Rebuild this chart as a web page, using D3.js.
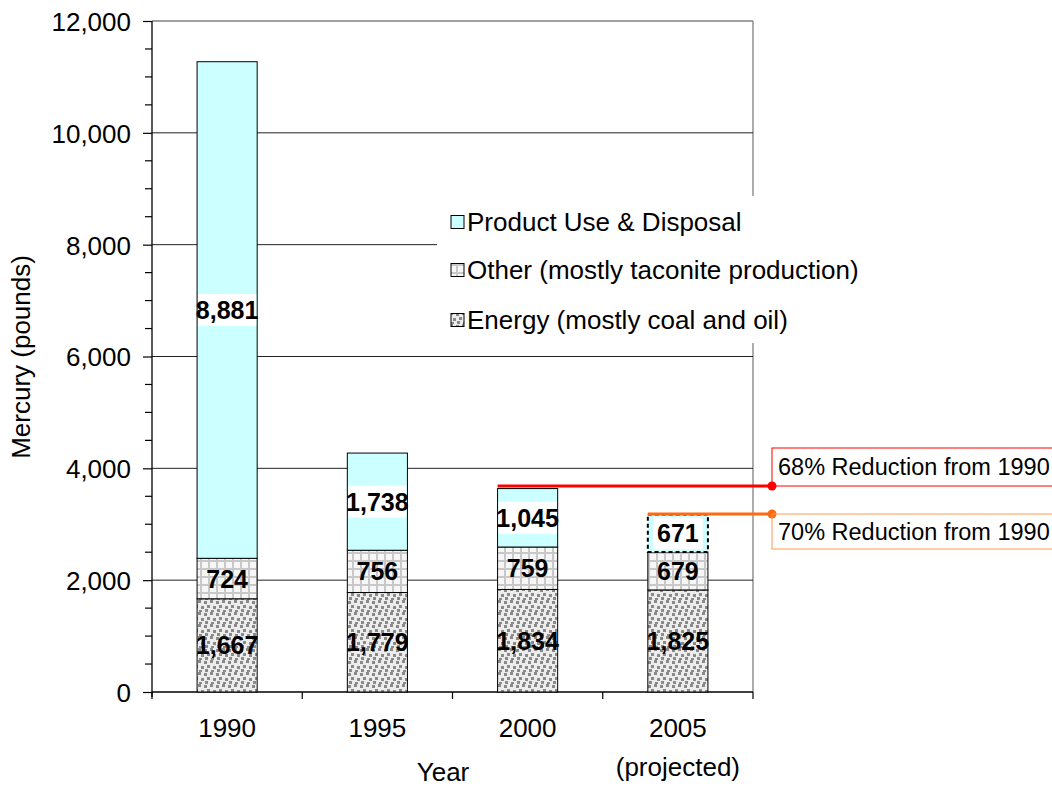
<!DOCTYPE html>
<html>
<head>
<meta charset="utf-8">
<script src="https://cdn.jsdelivr.net/npm/d3@7"></script>
<style>
html,body{margin:0;padding:0;background:#fff;}
text{font-family:"Liberation Sans",Arial,sans-serif;}
</style>
</head>
<body>
<svg id="chart" width="1052" height="787"></svg>
<script>
const years = ["1990", "1995", "2000", "2005"];
const yearSub = ["", "", "", "(projected)"];
const energy = [1667, 1779, 1834, 1825];
const other = [724, 756, 759, 679];
const product = [8881, 1738, 1045, 671];
const seriesNames = ["Product Use & Disposal", "Other (mostly taconite production)", "Energy (mostly coal and oil)"];
const yTicks = [0, 2000, 4000, 6000, 8000, 10000, 12000];
const annotations = [
  {label: "68% Reduction from 1990", value: 3684, from: "2000", color: "#ff0000", box: "#ff0000"},
  {label: "70% Reduction from 1990", value: 3183, from: "2005", color: "#ff6a10", box: "#ff9a50"}
];

(function () {
const svg = d3.select("#chart");
const pLeft = 152, pRight = 753, pTop = 21, pBottom = 692;
const FS = 26;

const defs = svg.append("defs");
const pe = defs.append("pattern").attr("id", "pEnergy").attr("patternUnits", "userSpaceOnUse")
  .attr("width", 12).attr("height", 12);
pe.append("rect").attr("width", 12).attr("height", 12).attr("fill", "#ececec");
[[0,1],[6,0],[3,5],[9,6],[1,9],[7,10]].forEach(([px,py]) => pe.append("rect").attr("x", px).attr("y", py)
  .attr("width", 3).attr("height", 3).attr("fill", "#8a8a8a"));
const po = defs.append("pattern").attr("id", "pOther").attr("patternUnits", "userSpaceOnUse")
  .attr("width", 8).attr("height", 8);
po.append("rect").attr("width", 8).attr("height", 8).attr("fill", "#f6f6f6");
po.append("rect").attr("x", 0).attr("y", 0).attr("width", 8).attr("height", 2).attr("fill", "#c8c8c8");
po.append("rect").attr("x", 0).attr("y", 0).attr("width", 2).attr("height", 8).attr("fill", "#c8c8c8");

const fills = {energy: "url(#pEnergy)", other: "url(#pOther)", product: "#ccffff"};

const x = d3.scaleBand().domain(years).range([pLeft, pRight]).paddingInner(0.6).paddingOuter(0.3);
const y = d3.scaleLinear().domain([0, 12000]).range([pBottom, pTop]);

svg.append("line").attr("x1", pLeft).attr("x2", pRight).attr("y1", y(12000)).attr("y2", y(12000))
  .attr("stroke", "#808080").attr("stroke-width", 1.3);
svg.append("line").attr("x1", pRight).attr("x2", pRight).attr("y1", pTop).attr("y2", pBottom)
  .attr("stroke", "#808080").attr("stroke-width", 1.3);

svg.append("g").selectAll("line").data(yTicks.filter(d => d > 0 && d < 12000)).join("line")
  .attr("x1", pLeft).attr("x2", pRight).attr("y1", d => y(d)).attr("y2", d => y(d))
  .attr("stroke", "#222").attr("stroke-width", 1);

const yAxis = d3.axisLeft(y).tickValues(yTicks).tickSize(9).tickFormat(d3.format(","));
const gy = svg.append("g").attr("transform", `translate(${pLeft},0)`).call(yAxis);
gy.attr("font-size", FS).attr("font-family", "Liberation Sans, Arial, sans-serif");
gy.select(".domain").attr("stroke", "#000").attr("stroke-width", 1.3).attr("d", `M0,${pTop}V${pBottom + 5}`);
gy.selectAll(".tick line").attr("stroke", "#000").attr("stroke-width", 1.2);
gy.selectAll(".tick text").attr("fill", "#000").attr("x", -21).attr("dy", "0.36em");
const minor = d3.range(500, 12000, 500).filter(d => d % 2000 !== 0);
svg.append("g").selectAll("line").data(minor).join("line")
  .attr("x1", pLeft - 7).attr("x2", pLeft).attr("y1", d => y(d)).attr("y2", d => y(d))
  .attr("stroke", "#000").attr("stroke-width", 1.2);

svg.append("line").attr("x1", pLeft).attr("x2", pRight).attr("y1", pBottom).attr("y2", pBottom)
  .attr("stroke", "#000").attr("stroke-width", 1.3);
const bounds = years.map(yr => x(yr) - x.step() * x.paddingInner() / 2).concat([pRight]);
svg.append("g").selectAll("line").data(bounds).join("line")
  .attr("x1", d => d).attr("x2", d => d).attr("y1", pBottom).attr("y2", pBottom + 7)
  .attr("stroke", "#000").attr("stroke-width", 1.2);
svg.append("g").selectAll("text").data(years).join("text")
  .attr("x", d => x(d) + x.bandwidth() / 2).attr("y", 737)
  .attr("text-anchor", "middle").attr("font-size", FS).text(d => d);
svg.append("g").selectAll("text").data(yearSub).join("text")
  .attr("x", (d, i) => x(years[i]) + x.bandwidth() / 2).attr("y", 776)
  .attr("text-anchor", "middle").attr("font-size", FS).text(d => d);
svg.append("text").attr("x", 443).attr("y", 781).attr("text-anchor", "middle").attr("font-size", FS).text("Year");
svg.append("text").attr("transform", "translate(30,357) rotate(-90)").attr("text-anchor", "middle")
  .attr("font-size", FS).text("Mercury (pounds)");

const rows = years.map((yr, i) => ({year: yr, energy: energy[i], other: other[i], product: product[i]}));
const keys = ["energy", "other", "product"];
const stack = d3.stack().keys(keys)(rows);
const gBars = svg.append("g");
stack.forEach(layer => {
  const k = layer.key;
  gBars.append("g").selectAll("rect").data(layer).join("rect")
    .attr("x", d => x(d.data.year)).attr("width", x.bandwidth())
    .attr("y", d => y(d[1])).attr("height", d => y(d[0]) - y(d[1]))
    .attr("fill", fills[k])
    .attr("stroke", "#000")
    .attr("stroke-width", d => (k === "product" && d.data.year === "2005") ? 2 : 1)
    .attr("stroke-dasharray", d => (k === "product" && d.data.year === "2005") ? "4,3" : null);
});
const fmt = d3.format(",");
stack.forEach(layer => {
  const k = layer.key;
  layer.forEach(d => {
    const cx = x(d.data.year) + x.bandwidth() / 2;
    const cy = (y(d[0]) + y(d[1])) / 2;
    const val = d.data[k];
    const g = gBars.append("g");
    const t = g.append("text").attr("x", cx).attr("y", cy).attr("dy", "0.36em")
      .attr("text-anchor", "middle").attr("font-size", 25).attr("font-weight", "bold").text(fmt(val));
    if (k === "product") {
      const w = t.node().getComputedTextLength() + 8;
      const bw = Math.min(w, x.bandwidth() - 2);
      g.insert("rect", "text").attr("x", cx - bw / 2).attr("y", cy - 16).attr("width", bw).attr("height", 32)
        .attr("fill", "#fff");
    }
  });
});

const lg = svg.append("g");
lg.append("rect").attr("x", 437).attr("y", 196).attr("width", 430).attr("height", 147).attr("fill", "#fff");
const legFills = [fills.product, fills.other, fills.energy];
const legY = [222, 270, 320];
seriesNames.forEach((n, i) => {
  lg.append("rect").attr("x", 451).attr("y", legY[i] - 6.5).attr("width", 13).attr("height", 13)
    .attr("fill", legFills[i]).attr("stroke", "#000").attr("stroke-width", 1);
  lg.append("text").attr("x", 467).attr("y", legY[i]).attr("dy", "0.36em").attr("font-size", FS).text(n);
});

annotations.forEach((a, i) => {
  const ly = y(a.value);
  const x0 = x(a.from);
  const xe = 772;
  svg.append("line").attr("x1", x0).attr("x2", xe).attr("y1", ly).attr("y2", ly)
    .attr("stroke", a.color).attr("stroke-width", 3);
  svg.append("circle").attr("cx", xe).attr("cy", ly).attr("r", 4.5).attr("fill", a.color);
  const by = i === 0 ? ly - 38 : ly;
  svg.append("rect").attr("x", xe).attr("y", by).attr("width", 290).attr("height", i === 0 ? 38 : 35)
    .attr("fill", "none").attr("stroke", a.box).attr("stroke-width", 1);
  svg.append("text").attr("x", xe + 6).attr("y", by + (i === 0 ? 19 : 17.5)).attr("dy", "0.36em")
    .attr("font-size", 23.5).text(a.label);
});
})();
</script>
</body>
</html>
